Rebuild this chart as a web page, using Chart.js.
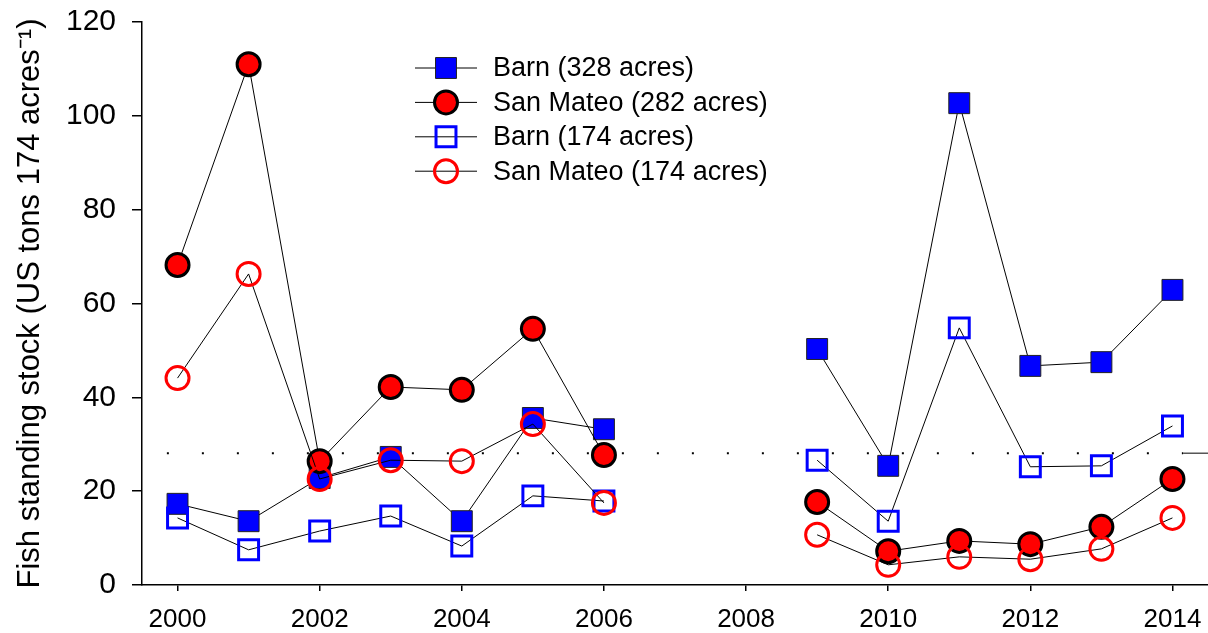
<!DOCTYPE html>
<html><head><meta charset="utf-8">
<script src="https://cdn.jsdelivr.net/npm/chart.js@4"></script>
<style>html,body{margin:0;padding:0;background:#fff}canvas{display:block}</style>
</head><body>
<canvas id="c" width="1208" height="633"></canvas>
<script>
// ---- data ----
const years = [2000, 2001, 2002, 2003, 2004, 2005, 2006, 2007, 2008, 2009, 2010, 2011, 2012, 2013, 2014];
const barn328     = [17.3, 13.6, 22.8, 27.3, 13.6, 35.6, 33.2, null, null, 50.3, 25.4, 102.7, 46.7, 47.5, 62.9];
const sanMateo282 = [68.2, 111.0, 26.4, 42.2, 41.6, 54.6, 27.7, null, null, 17.7, 7.2, 9.4, 8.7, 12.4, 22.6];
const barn174     = [14.3, 7.5, 11.5, 14.7, 8.3, 19.0, 17.9, null, null, 26.6, 13.6, 54.8, 25.2, 25.4, 33.9];
const sanMateo174 = [44.1, 66.3, 22.6, 26.6, 26.4, 34.3, 17.5, null, null, 10.7, 4.3, 6.0, 5.5, 7.7, 14.3];
const seriesNames = ['Barn (328 acres)', 'San Mateo (282 acres)', 'Barn (174 acres)', 'San Mateo (174 acres)'];
const xTickValues = [2000, 2002, 2004, 2006, 2008, 2010, 2012, 2014];
const yTickValues = [0, 20, 40, 60, 80, 100, 120];
const referenceLevel = 28.1;
const referenceDottedX = [1999.85, 2014.15];
const referenceSolidX = [2014.15, 2014.5];
const yTitle = 'Fish standing stock (US tons 174 acres\u207B\u00B9)';

const FONT = "'Liberation Sans', Arial, Helvetica, sans-serif";
const toPts = arr => years.map((x, i) => ({x: x, y: arr[i]}));

const legendPlugin = {
  id: 'customLegend',
  afterDraw(chart) {
    const ctx = chart.ctx;
    const x0 = 415, x1 = 477, xm = 446, tx = 493, y0 = 68, dy = 34.4;
    ctx.save();
    seriesNames.forEach((name, i) => {
      const d = chart.data.datasets[i];
      const y = y0 + i * dy;
      ctx.beginPath();
      ctx.strokeStyle = '#000';
      ctx.lineWidth = 1;
      ctx.moveTo(x0, y); ctx.lineTo(x1, y); ctx.stroke();
      ctx.fillStyle = d.pointBackgroundColor;
      ctx.strokeStyle = d.pointBorderColor;
      ctx.lineWidth = d.pointBorderWidth;
      Chart.helpers.drawPoint(ctx, {pointStyle: d.pointStyle, radius: d.pointRadius, borderWidth: d.pointBorderWidth, rotation: 0}, xm, y);
      ctx.fillStyle = '#000';
      ctx.font = '27px ' + FONT;
      ctx.textBaseline = 'middle';
      ctx.textAlign = 'left';
      ctx.fillText(name, tx, y + 1);
    });
    ctx.restore();
  }
};

const mk = (label, arr, style, bg, bc, r, bw, order) => ({
  label: label, data: toPts(arr), order: order,
  borderColor: '#000', borderWidth: 1, spanGaps: false, fill: false, tension: 0,
  pointStyle: style, pointRadius: r, pointHoverRadius: r,
  pointBackgroundColor: bg, pointBorderColor: bc, pointBorderWidth: bw, pointHoverBorderWidth: bw
});

new Chart(document.getElementById('c'), {
  type: 'line',
  data: {
    datasets: [
      mk(seriesNames[0], barn328, 'rect', '#0000FF', '#222', 14.8, 1, 4),
      mk(seriesNames[1], sanMateo282, 'circle', '#FF0000', '#000', 11.5, 3, 3),
      mk(seriesNames[2], barn174, 'rect', 'rgba(0,0,0,0)', '#0000FF', 14.1, 3, 2),
      mk(seriesNames[3], sanMateo174, 'circle', 'rgba(0,0,0,0)', '#FF0000', 11.5, 3, 1),
      { label: 'ref', data: referenceDottedX.map(x => ({x: x, y: referenceLevel})), order: 6,
        borderColor: '#000', borderWidth: 2, borderDash: [2, 33], pointRadius: 0, fill: false },
      { label: 'ref2', data: referenceSolidX.map(x => ({x: x, y: referenceLevel})), order: 6,
        borderColor: '#000', borderWidth: 1, pointRadius: 0, fill: false }
    ]
  },
  options: {
    responsive: false, animation: false, devicePixelRatio: 1,
    layout: {autoPadding: false, padding: {top: 22, right: 0, bottom: 0, left: 0}},
    plugins: {legend: {display: false}, tooltip: {enabled: false}},
    scales: {
      x: {
        type: 'linear', min: 1999.5, max: 2014.5,
        afterBuildTicks: s => { s.ticks = xTickValues.map(v => ({value: v})); },
        afterFit: s => { s.height = 48; s.paddingLeft = 0; s.paddingRight = 0; },
        grid: {drawOnChartArea: false, drawTicks: true, tickLength: 6, color: '#000', lineWidth: 1.5},
        border: {display: true, color: '#000', width: 1.5},
        ticks: {color: '#000', padding: 13, maxRotation: 0, autoSkip: false,
          font: {family: FONT, size: 26}, callback: v => String(v)}
      },
      y: {
        type: 'linear', min: 0, max: 120,
        afterBuildTicks: s => { s.ticks = yTickValues.map(v => ({value: v})); },
        afterFit: s => { s.width = 142; s.paddingTop = 0; s.paddingBottom = 0; },
        grid: {drawOnChartArea: false, drawTicks: true, tickLength: 10, color: '#000', lineWidth: 1.5},
        border: {display: true, color: '#000', width: 1.5},
        ticks: {color: '#000', padding: 16, font: {family: FONT, size: 30}},
        title: {display: true, text: yTitle, color: '#000', padding: {top: 12, bottom: 0},
          font: {family: FONT, size: 31}}
      }
    }
  },
  plugins: [legendPlugin]
});
</script></body></html>
